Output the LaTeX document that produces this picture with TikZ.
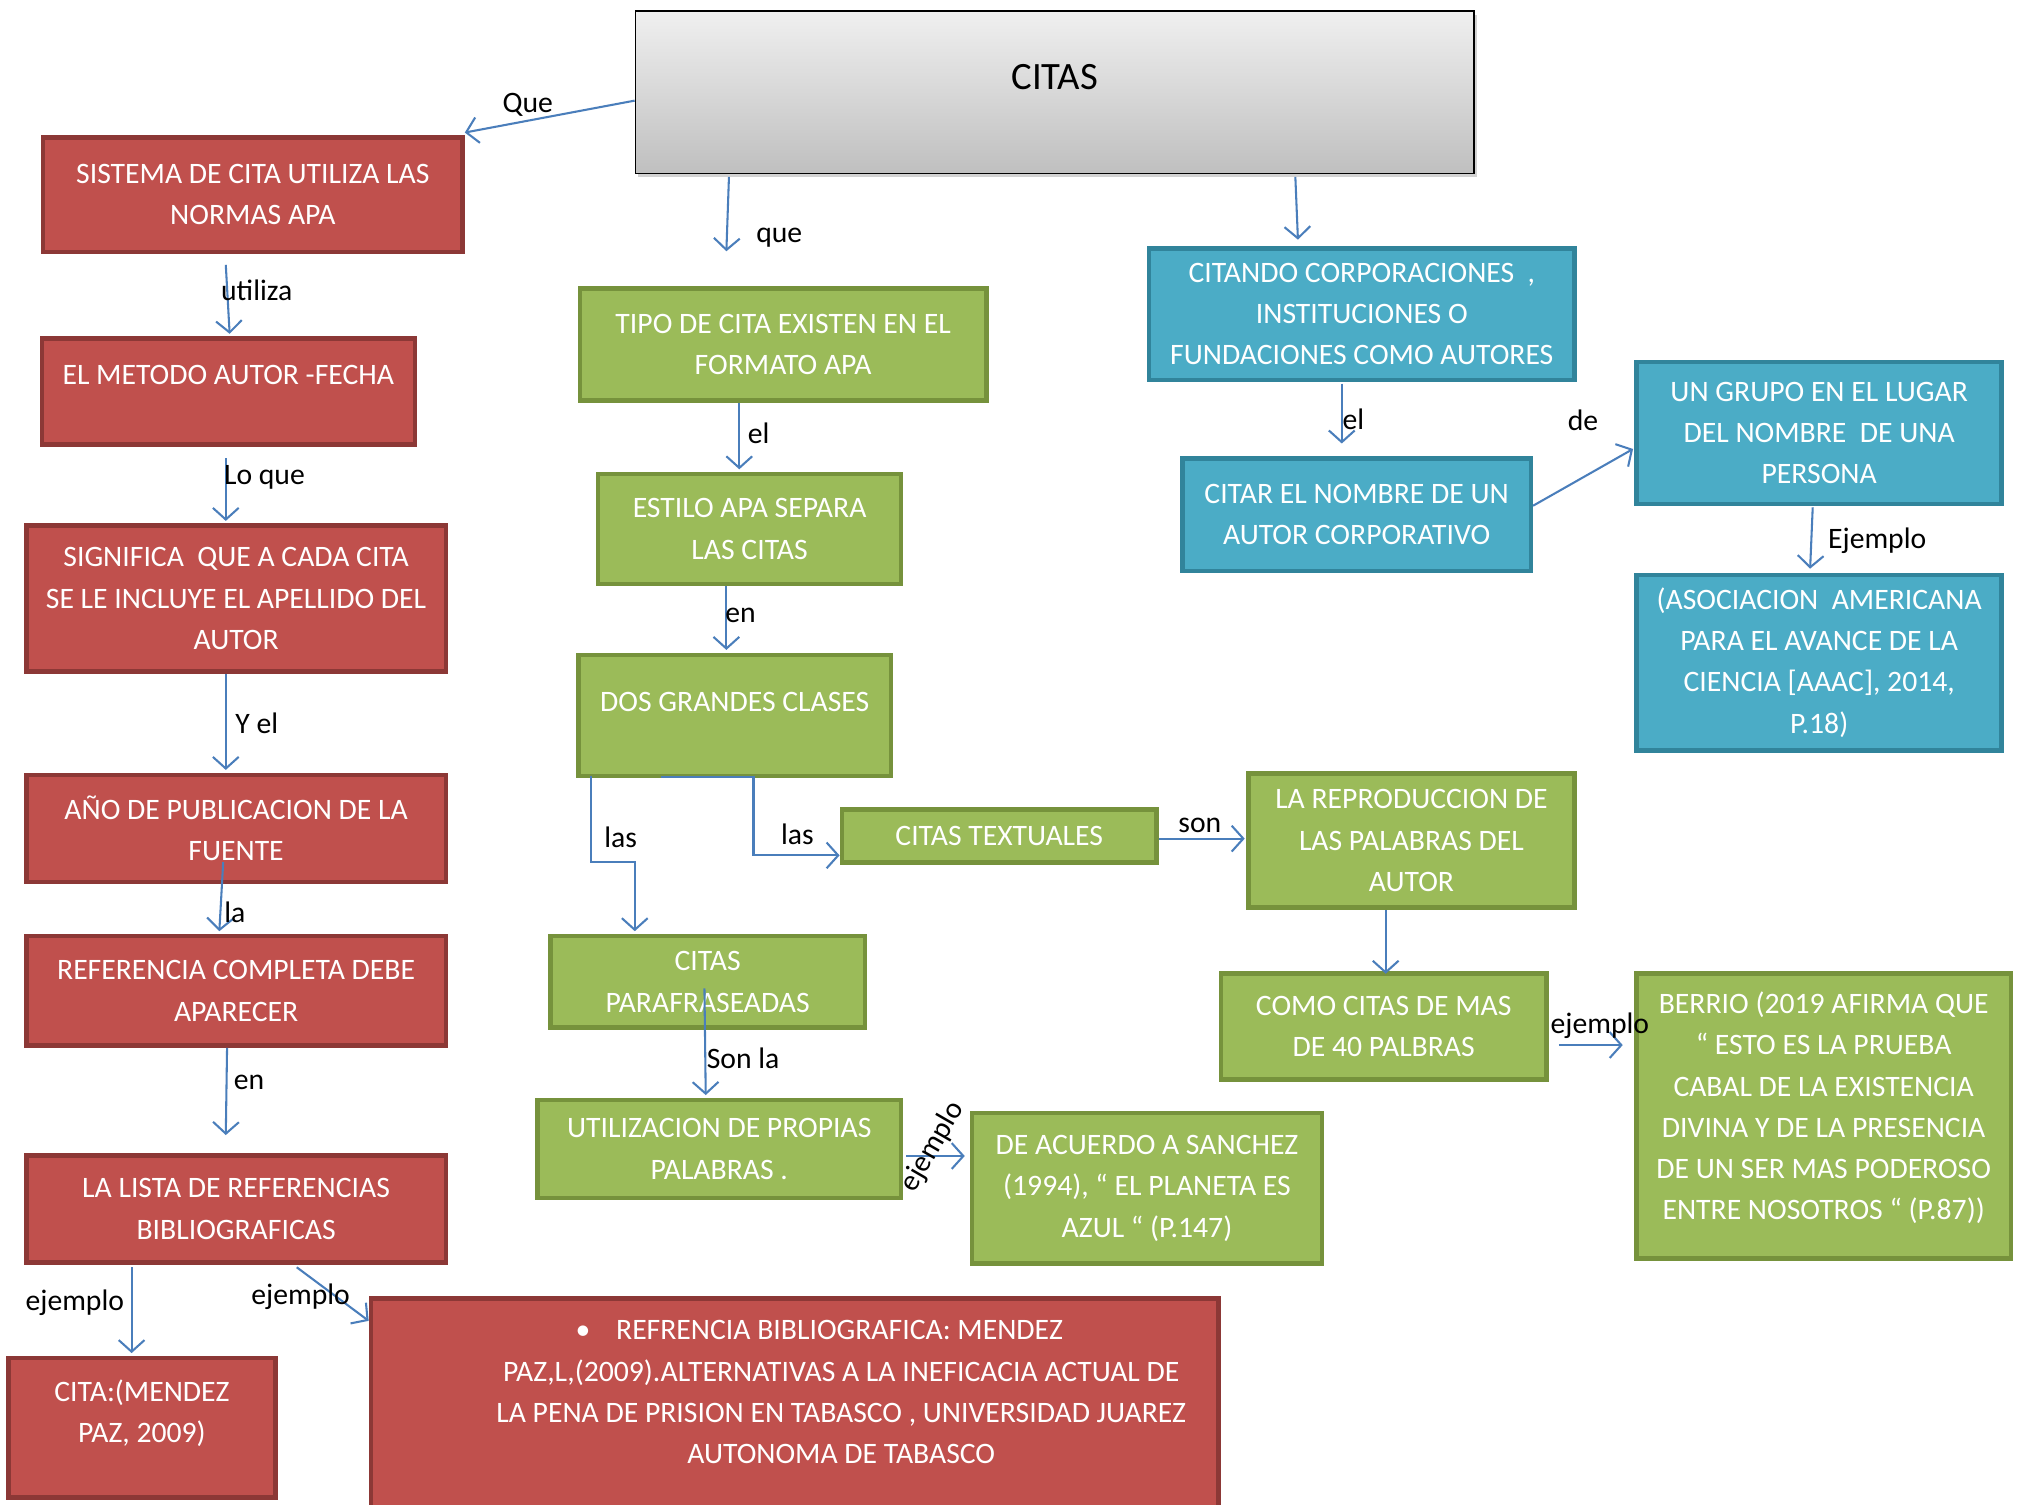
\documentclass[tikz,border=0pt]{standalone}
\usepackage{fontspec}
\setmainfont{Carlito}
\usetikzlibrary{arrows.meta,calc,shadows}
\definecolor{rfill}{HTML}{C0504D}
\definecolor{rline}{HTML}{8C3836}
\definecolor{gfill}{HTML}{9BBB59}
\definecolor{gline}{HTML}{76923C}
\definecolor{bfill}{HTML}{4BACC6}
\definecolor{bline}{HTML}{31849B}
\definecolor{arrc}{HTML}{4A7EBB}
\begin{document}
\begin{tikzpicture}[x=1pt,y=-1pt,
  box/.style={rectangle, line width=3.5pt, align=center, text=white, font=\fontsize{23}{32}\selectfont, inner sep=0pt},
  rbox/.style={box, fill=rfill, draw=rline},
  gbox/.style={box, fill=gfill, draw=gline},
  bbox/.style={box, fill=bfill, draw=bline},
  arr/.style={draw=arrc, line width=1.6pt, -{Straight Barb[length=9pt,width=20pt]}},
  lab/.style={font=\fontsize{23}{27}\selectfont, text=black, inner sep=0pt},
]
\useasboundingbox (0,0) rectangle (1568,1166);
\fill[white] (0,0) rectangle (1568,1166);

% central node
\node[draw=black, line width=1.2pt, top color=black!6, bottom color=black!25,
  drop shadow={opacity=0.35, shadow xshift=2pt, shadow yshift=-3pt},
  minimum width=650pt, minimum height=126pt, inner sep=0pt,
  font=\fontsize{30}{34}\selectfont, text height=19.3pt, text depth=23pt] (cit) at (817.5,71.5) {CITAS};

% red column
\node[rbox, minimum width=325pt, minimum height=89pt] (sis) at (196,151) {SISTEMA DE CITA UTILIZA LAS\\NORMAS APA};
\node[rbox, minimum width=289pt, minimum height=82pt, text height=14.8pt, text depth=25pt] (met) at (177,303.5) {EL METODO AUTOR -FECHA};
\node[rbox, minimum width=325pt, minimum height=113pt] (sig) at (183,464) {SIGNIFICA\ \ QUE A CADA CITA\\SE LE INCLUYE EL APELLIDO DEL\\AUTOR};
\node[rbox, minimum width=325pt, minimum height=83pt] (ano) at (183,642) {AÑO DE PUBLICACION DE LA\\FUENTE};
\node[rbox, minimum width=325pt, minimum height=85pt] (ref) at (183,768) {REFERENCIA COMPLETA DEBE\\APARECER};
\node[rbox, minimum width=325pt, minimum height=83pt] (lis) at (183,937) {LA LISTA DE REFERENCIAS\\BIBLIOGRAFICAS};
\node[rbox, minimum width=207pt, minimum height=108pt, text height=49pt, text depth=26pt] (cit2) at (110,1106.5) {CITA:(MENDEZ\\PAZ, 2009)};
\node[rbox, minimum width=657pt, minimum height=164pt, text height=111pt, text depth=19pt] (bib) at (616,1088.5)
 {\hspace*{38pt}•\hspace{20pt}REFRENCIA BIBLIOGRAFICA: MENDEZ\\
  \hspace*{72pt}PAZ,L,(2009).ALTERNATIVAS A LA INEFICACIA ACTUAL DE\\
  \hspace*{72pt}LA PENA DE PRISION EN TABASCO , UNIVERSIDAD JUAREZ\\
  \hspace*{72pt}AUTONOMA DE TABASCO};

% green
\node[gbox, minimum width=315pt, minimum height=87pt] (tipo) at (607,267) {TIPO DE CITA EXISTEN EN EL\\FORMATO APA};
\node[gbox, minimum width=235pt, minimum height=85pt] (est) at (581,410) {ESTILO APA SEPARA\\LAS CITAS};
\node[gbox, minimum width=242pt, minimum height=94pt, text height=14.8pt, text depth=21pt] (dos) at (569.5,554.5) {DOS GRANDES CLASES};
\node[gbox, minimum width=244pt, minimum height=41pt] (tex) at (774.5,648) {CITAS TEXTUALES};
\node[gbox, minimum width=253pt, minimum height=104pt] (rep) at (1094,651.5) {LA REPRODUCCION DE\\LAS PALABRAS DEL\\AUTOR};
\node[gbox, minimum width=244pt, minimum height=71pt] (par) at (548.5,761) {CITAS\\PARAFRASEADAS};
\node[gbox, minimum width=252pt, minimum height=82pt] (com) at (1072.5,795.5) {COMO CITAS DE MAS\\DE 40 PALBRAS};
\node[gbox, minimum width=282pt, minimum height=76pt] (uti) at (557.5,890.5) {UTILIZACION DE PROPIAS\\PALABRAS .};
\node[gbox, minimum width=271pt, minimum height=117pt] (acu) at (889,921) {DE ACUERDO A SANCHEZ\\(1994), “ EL PLANETA ES\\AZUL “ (P.147)};
\node[gbox, minimum width=290pt, minimum height=221pt, text height=177pt, text depth=16pt] (ber) at (1413.5,865)
 {BERRIO (2019 AFIRMA QUE\\“ ESTO ES LA PRUEBA\\CABAL DE LA EXISTENCIA\\DIVINA Y DE LA PRESENCIA\\DE UN SER MAS PODEROSO\\ENTRE NOSOTROS “ (P.87))};

% blue
\node[bbox, minimum width=330pt, minimum height=102pt] (cdo) at (1055.5,243.5) {CITANDO CORPORACIONES\ \ ,\\INSTITUCIONES O\\FUNDACIONES COMO AUTORES};
\node[bbox, minimum width=270pt, minimum height=87pt] (ctr) at (1051.5,399) {CITAR EL NOMBRE DE UN\\AUTOR CORPORATIVO};
\node[bbox, minimum width=283pt, minimum height=110pt] (gru) at (1410,335.5) {UN GRUPO EN EL LUGAR\\DEL NOMBRE\ \ DE UNA\\PERSONA};
\node[bbox, minimum width=283pt, minimum height=136pt] (aso) at (1410,513.5) {(ASOCIACION\ \ AMERICANA\\PARA EL AVANCE DE LA\\CIENCIA [AAAC], 2014,\\P.18)};

% connectors
\draw[arr] ($(cit.west)+(0,6.5)$) -- ($(sis.north east)+(0,-2)$);
\draw[arr] ($(cit.south)+(-252.5,2)$) -- ($(tipo.north)+(-44,-27)$);
\draw[arr] ($(cit.south)+(186.5,2)$) -- ($(cdo.north)+(-49.5,-5)$);
\draw[arr] ($(sis.south)+(-21,8)$) -- ($(met.north)+(1,-2)$);
\draw[arr] ($(met.south)+(-2,9)$) -- ($(sig.north)+(-8,-2)$);
\draw[arr] ($(sig.south)+(-8,0)$) -- ($(ano.north)+(-8,-2)$);
\draw[arr] ($(ano.south)+(-10,-17)$) -- ($(ref.north)+(-13,-2)$);
\draw[arr] ($(ref.south)+(-7,0)$) -- ($(lis.north)+(-8,-14)$);
\draw[arr] ($(lis.south)+(-81,2)$) -- ($(cit2.north)+(-8,-2)$);
\draw[arr] ($(lis.south)+(47,2)$) -- ($(bib.north west)+(0,19)$);
\draw[arr] ($(tipo.south)+(-34,0)$) -- ($(est.north)+(-8,-2)$);
\draw[arr] ($(est.south)+(-18,0)$) -- ($(dos.north)+(-6.5,-2)$);
\draw[arr] ($(dos.south west)+(11,-2)$) -- ++(0,67) -| ($(par.north)+(-56.5,-2)$);
\draw[arr] ($(dos.south)+(-57.5,-1)$) -- ++(72,0) |- ($(tex.west)+(0,15)$);
\draw[arr] ($(tex.east)+(0,2)$) -- ($(rep.west)+(-1,-1.5)$);
\draw[arr] ($(rep.south)+(-20,0)$) -- ($(com.north)+(1.5,2)$);
\draw[arr] ($(com.east)+(8,14.5)$) -- ($(ber.west)+(-9,-55)$);
\draw[arr] ($(par.center)+(-2.5,5)$) -- ($(uti.north)+(-10.5,-2)$);
\draw[arr] ($(uti.east)+(2,5.5)$) -- ($(acu.west)+(-4,-25)$);
\draw[arr] ($(cdo.south)+(-15.5,1)$) -- ($(ctr.north)+(-11.5,-10)$);
\draw[arr] ($(ctr.east)+(0,-7)$) -- ($(gru.west)+(-1,12.5)$);
\draw[arr] ($(gru.south)+(-5,1)$) -- ($(aso.north)+(-7,-3)$);

% labels
\node[lab] (l1) at (409,81) {Que};
\node[lab] (l2) at (604,184) {que};
\node[lab] (l3) at (199,225) {utiliza};
\node[lab] (l4) at (205,370) {Lo que};
\node[lab] (l5) at (199,561) {Y el};
\node[lab] (l6) at (182,707) {la};
\node[lab] (l7) at (193,839) {en};
\node[lab] (l8) at (58,1010) {ejemplo};
\node[lab] (l9) at (233,1005) {ejemplo};
\node[lab] (l10) at (588,336) {el};
\node[lab] (l11) at (574,477) {en};
\node[lab] (l12) at (481,649) {las};
\node[lab] (l13) at (618,647) {las};
\node[lab] (l14) at (930,640) {son};
\node[lab] (l15) at (1240,795) {ejemplo};
\node[lab] (l16) at (576,820) {Son la};
\node[lab, rotate=60] (l17) at (723,889) {ejemplo};
\node[lab] (l18) at (1049,325) {el};
\node[lab] (l19) at (1227,326) {de};
\node[lab] (l20) at (1455,419) {Ejemplo};
\end{tikzpicture}
\end{document}
